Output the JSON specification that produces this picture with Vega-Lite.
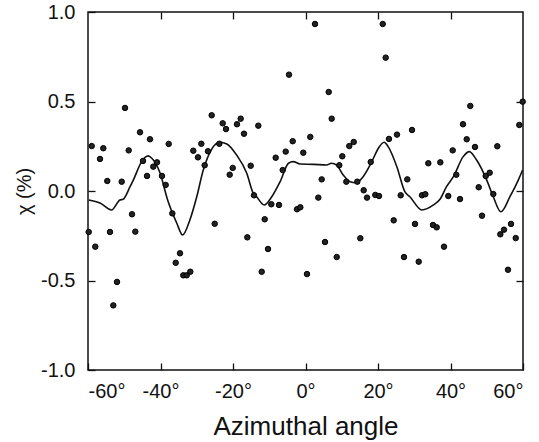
{
  "$schema": "https://vega.github.io/schema/vega-lite/v6.json",
  "autosize": {"type": "none"},
  "width": 435,
  "height": 358,
  "padding": {"left": 88, "top": 12, "right": 16, "bottom": 72},
  "background": "white",
  "config": {
    "view": {"stroke": "#111", "strokeWidth": 1.5},
    "font": "Liberation Sans",
    "axis": {"grid": false, "domainColor": "#111", "domainWidth": 0.001, "tickColor": "#111", "tickWidth": 1.3, "labelColor": "#111", "titleColor": "#111", "labelFont": "Liberation Sans", "titleFont": "Liberation Sans", "titleFontWeight": "normal"}
  },
  "datasets": {
    "pts": [
      {"a": -58.98, "v": 0.251}, {"a": -56.69, "v": 0.179}, {"a": -55.78, "v": 0.239}, {"a": -54.68, "v": 0.056},
      {"a": -50.70, "v": 0.052}, {"a": -49.79, "v": 0.464}, {"a": -48.77, "v": 0.227}, {"a": -45.65, "v": 0.328},
      {"a": -44.83, "v": 0.168}, {"a": -42.90, "v": 0.289}, {"a": -43.72, "v": 0.084}, {"a": -41.99, "v": 0.136},
      {"a": -40.97, "v": 0.160}, {"a": -39.59, "v": 0.084}, {"a": -38.57, "v": 0.034}, {"a": -37.74, "v": 0.263},
      {"a": -30.95, "v": 0.225}, {"a": -29.66, "v": 0.188}, {"a": -28.74, "v": 0.264}, {"a": -26.90, "v": 0.222},
      {"a": -27.81, "v": 0.144}, {"a": -25.88, "v": 0.423}, {"a": -23.78, "v": 0.264}, {"a": -22.84, "v": 0.378},
      {"a": -21.93, "v": 0.346}, {"a": -18.90, "v": 0.373}, {"a": -17.88, "v": 0.404}, {"a": -16.97, "v": 0.320},
      {"a": -20.91, "v": 0.091}, {"a": -20.08, "v": 0.129}, {"a": -15.12, "v": 0.141}, {"a": -13.02, "v": 0.365},
      {"a": -14.21, "v": -0.024}, {"a": -8.22, "v": 0.186}, {"a": -5.46, "v": 0.220}, {"a": -3.53, "v": 0.278},
      {"a": -4.55, "v": 0.650}, {"a": -0.61, "v": 0.214}, {"a": 1.32, "v": 0.302}, {"a": -6.29, "v": 0.117},
      {"a": 2.62, "v": 0.933}, {"a": 6.40, "v": 0.553}, {"a": 7.23, "v": 0.404}, {"a": 4.47, "v": 0.065},
      {"a": 3.53, "v": -0.037}, {"a": 9.32, "v": 0.144}, {"a": 10.15, "v": 0.194}, {"a": 12.08, "v": 0.251},
      {"a": 13.30, "v": 0.274}, {"a": 11.26, "v": 0.052}, {"a": 14.29, "v": 0.052}, {"a": 16.05, "v": 0.004},
      {"a": 16.97, "v": -0.037}, {"a": 17.99, "v": 0.162}, {"a": 19.26, "v": -0.022}, {"a": 20.28, "v": -0.028},
      {"a": 21.30, "v": 0.933}, {"a": 22.12, "v": 0.745}, {"a": 23.03, "v": 0.291}, {"a": 25.24, "v": 0.315},
      {"a": 29.38, "v": 0.341}, {"a": 26.26, "v": -0.024}, {"a": 28.08, "v": 0.065}, {"a": 32.14, "v": -0.024},
      {"a": 33.05, "v": -0.018}, {"a": 33.88, "v": 0.155}, {"a": 37.19, "v": 0.160}, {"a": 39.39, "v": -0.028},
      {"a": 40.61, "v": 0.227}, {"a": 41.60, "v": 0.091}, {"a": 42.62, "v": -0.045}, {"a": 43.45, "v": 0.373},
      {"a": 45.46, "v": 0.475}, {"a": 44.47, "v": 0.289}, {"a": 46.76, "v": 0.246}, {"a": 47.78, "v": 0.021},
      {"a": 49.71, "v": 0.084}, {"a": 50.81, "v": 0.102}, {"a": 51.81, "v": -0.017}, {"a": 52.91, "v": 0.250},
      {"a": 58.98, "v": 0.369}, {"a": 59.92, "v": 0.499},
      {"a": -59.81, "v": -0.229}, {"a": -57.99, "v": -0.311}, {"a": -53.93, "v": -0.229}, {"a": -52.00, "v": -0.508},
      {"a": -53.02, "v": -0.639}, {"a": -47.86, "v": -0.130}, {"a": -46.95, "v": -0.227}, {"a": -36.74, "v": -0.125},
      {"a": -34.62, "v": -0.348}, {"a": -35.81, "v": -0.401}, {"a": -33.71, "v": -0.471}, {"a": -32.77, "v": -0.471},
      {"a": -31.78, "v": -0.451}, {"a": -25.05, "v": -0.183}, {"a": -16.05, "v": -0.259}, {"a": -11.25, "v": -0.158},
      {"a": -10.34, "v": -0.324}, {"a": -12.08, "v": -0.451}, {"a": -9.43, "v": -0.074}, {"a": -7.31, "v": -0.078},
      {"a": -2.34, "v": -0.102}, {"a": -1.43, "v": -0.091}, {"a": 0.41, "v": -0.464}, {"a": 5.38, "v": -0.285},
      {"a": 8.61, "v": -0.369}, {"a": 15.12, "v": -0.264}, {"a": 24.33, "v": -0.164}, {"a": 27.17, "v": -0.369},
      {"a": 30.21, "v": -0.184}, {"a": 31.23, "v": -0.395}, {"a": 35.17, "v": -0.190}, {"a": 36.19, "v": -0.203},
      {"a": 38.21, "v": -0.311}, {"a": 48.69, "v": -0.138}, {"a": 53.74, "v": -0.242}, {"a": 54.76, "v": -0.216},
      {"a": 56.69, "v": -0.184}, {"a": 57.99, "v": -0.263}, {"a": 55.86, "v": -0.440}
    ],
    "fit": [
      {"a": -59.8, "v": -0.050}, {"a": -56.7, "v": -0.067}, {"a": -53.5, "v": -0.106}, {"a": -51.2, "v": -0.050},
      {"a": -50.3, "v": -0.046}, {"a": -48.4, "v": 0.024}, {"a": -47.5, "v": 0.061}, {"a": -45.2, "v": 0.164},
      {"a": -43.4, "v": 0.196}, {"a": -42.4, "v": 0.183}, {"a": -40.1, "v": 0.099}, {"a": -38.1, "v": -0.046},
      {"a": -35.5, "v": -0.180}, {"a": -33.9, "v": -0.246}, {"a": -31.9, "v": -0.162}, {"a": -30.0, "v": -0.032},
      {"a": -28.2, "v": 0.117}, {"a": -25.9, "v": 0.233}, {"a": -23.6, "v": 0.272}, {"a": -21.7, "v": 0.263},
      {"a": -19.0, "v": 0.201}, {"a": -16.2, "v": 0.099}, {"a": -14.4, "v": -0.013}, {"a": -13.5, "v": -0.032},
      {"a": -11.4, "v": -0.078}, {"a": -9.3, "v": -0.032}, {"a": -7.0, "v": 0.052}, {"a": -4.7, "v": 0.155},
      {"a": -3.4, "v": 0.164}, {"a": -1.5, "v": 0.151}, {"a": 2.2, "v": 0.149}, {"a": 5.8, "v": 0.145},
      {"a": 7.2, "v": 0.155}, {"a": 8.6, "v": 0.145}, {"a": 10.4, "v": 0.089}, {"a": 12.3, "v": 0.052},
      {"a": 13.9, "v": 0.046}, {"a": 15.9, "v": 0.080}, {"a": 18.3, "v": 0.164}, {"a": 20.1, "v": 0.239},
      {"a": 21.7, "v": 0.272}, {"a": 22.8, "v": 0.248}, {"a": 25.2, "v": 0.136}, {"a": 27.4, "v": -0.004},
      {"a": 28.8, "v": -0.032}, {"a": 32.1, "v": -0.106}, {"a": 35.3, "v": -0.078}, {"a": 37.1, "v": -0.046},
      {"a": 38.9, "v": 0.024}, {"a": 40.8, "v": 0.080}, {"a": 43.5, "v": 0.192}, {"a": 45.2, "v": 0.220},
      {"a": 47.2, "v": 0.173}, {"a": 50.0, "v": 0.061}, {"a": 51.8, "v": -0.032}, {"a": 53.9, "v": -0.116},
      {"a": 56.4, "v": -0.032}, {"a": 58.7, "v": 0.061}, {"a": 59.9, "v": 0.117}
    ]
  },
  "layer": [
    {
      "data": {"name": "fit"},
      "mark": {"type": "line", "color": "#111", "strokeWidth": 1.6, "interpolate": "monotone"},
      "encoding": {
        "x": {"field": "a", "type": "quantitative", "scale": {"domain": [-60, 60], "nice": false, "zero": false},
              "axis": {"orient": "top", "values": [-40, -20, 0, 20, 40], "labels": false, "title": null, "tickSize": 7, "offset": -7, "tickColor": "#111", "tickWidth": 1.3}},
        "y": {"field": "v", "type": "quantitative", "scale": {"domain": [-1, 1], "nice": false, "zero": false},
              "axis": {"orient": "right", "values": [-0.5, 0, 0.5], "labels": false, "title": null, "tickSize": 7, "offset": -7, "tickColor": "#111", "tickWidth": 1.3}}
      }
    },
    {
      "data": {"name": "pts"},
      "mark": {"type": "point", "filled": true, "shape": "circle", "size": 30, "color": "#222", "stroke": "#000", "strokeWidth": 1, "opacity": 1},
      "encoding": {
        "x": {"field": "a", "type": "quantitative",
              "axis": {"orient": "bottom", "values": [-60, -40, -20, 0, 20, 40, 60], "labelExpr": "datum.value + '°'", "tickSize": 7, "offset": -7, "tickColor": "#111", "tickWidth": 1.3, "labelPadding": 11, "labelFontSize": 20, "title": "Azimuthal angle", "titleFontSize": 26, "titlePadding": 12}},
        "y": {"field": "v", "type": "quantitative",
              "axis": {"orient": "left", "values": [-1, -0.5, 0, 0.5, 1], "labelExpr": "(datum.value < 0 ? '-' : '') + format(abs(datum.value), '.1f')", "tickSize": 7, "offset": -7, "tickColor": "#111", "tickWidth": 1.3, "labelPadding": 13, "labelFontSize": 20, "title": "χ (%)", "titleFontSize": 20, "titlePadding": 6}}
      }
    }
  ],
  "resolve": {"axis": {"x": "independent", "y": "independent"}}
}
